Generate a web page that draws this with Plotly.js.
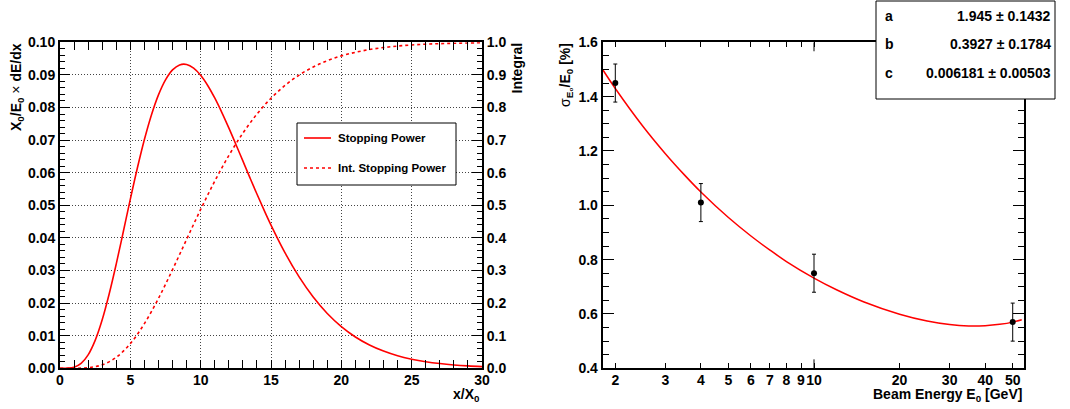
<!DOCTYPE html>
<html><head><meta charset="utf-8">
<script src="https://cdn.plot.ly/plotly-3.0.1.min.js"></script>
<style>body{margin:0;background:#fff}#chart{width:1070px;height:409px}</style>
</head><body><div id="chart"></div>
<script>
// ---- Left panel: longitudinal shower profile ----
const depthX0 = [0,0.5,1,1.5,2,2.5,3,3.5,4,4.5,5,5.5,6,6.5,7,7.5,8,8.5,9,9.5,10,10.5,11,11.5,12,12.5,13,13.5,14,14.5,15,16,17,18,19,20,21,22,23,24,25,26,27,28,29,30];
const stoppingPower = [0,0.00002,0.00032,0.00149,0.00412,0.00857,0.01489,0.02286,0.03203,0.04189,0.05187,0.06143,0.07016,0.07771,0.08386,0.08847,0.09153,0.09307,0.09321,0.09209,0.08988,0.08676,0.08292,0.07852,0.07375,0.06874,0.06361,0.05849,0.05346,0.04859,0.04393,0.03539,0.02803,0.02186,0.01682,0.01279,0.00961,0.00715,0.00528,0.00384,0.00280,0.00202,0.00145,0.00103,0.00073,0.00051];
const depthIntX0 = [0,1,2,3,4,5,6,7,8,9,10,11,12,13,14,15,16,17,18,19,20,21,22,23,24,25,26,27,28,29,30];
const intStoppingPower = [0,0.00007,0.0018,0.0107,0.0337,0.0757,0.1370,0.2144,0.3026,0.3955,0.4874,0.5740,0.6525,0.7212,0.7797,0.8283,0.8679,0.8995,0.9243,0.9436,0.9583,0.9694,0.9778,0.9839,0.9885,0.9918,0.9942,0.9959,0.9971,0.9980,0.9986];
const legendLabels = ['Stopping Power','Int. Stopping Power'];

// ---- Right panel: energy resolution ----
const beamEnergy = [2,4,10,50];
const resolution = [1.45,1.01,0.75,0.57];
const resolutionErr = [0.07,0.07,0.07,0.07];
const fitEnergy = [1.81,2,2.5,3,3.5,4,5,6,7,8,10,12,15,20,25,30,35,40,45,50,53.8];
const fitResolution = [1.498,1.430,1.291,1.190,1.112,1.049,0.955,0.887,0.835,0.793,0.732,0.689,0.644,0.599,0.574,0.561,0.556,0.557,0.562,0.570,0.579];
const logTickVals = [2,3,4,5,6,7,8,9,10,20,30,40,50];
const logTickText = ['2','3','4','5','6','7','8','9','10','20','30','40','50'];
const fitParNames = ['a','b','c'];
const fitParValues = ['1.945','0.3927','0.006181'];
const fitParErrors = ['0.1432','0.1784','0.00503'];

const W = 1070, H = 409;
const px = v => v / W;
const py = v => 1 - v / H;
const RED = '#ff0000';
const FONT = 'Liberation Sans, Arial, Helvetica, sans-serif';

const traces = [
  {x: depthX0, y: stoppingPower, xaxis: 'x', yaxis: 'y', type: 'scatter', mode: 'lines',
   line: {color: RED, width: 1.6, shape: 'spline'}, name: legendLabels[0], hoverinfo: 'skip'},
  {x: depthIntX0, y: intStoppingPower, xaxis: 'x', yaxis: 'y2', type: 'scatter', mode: 'lines',
   line: {color: RED, width: 1.6, dash: '3px,3px', shape: 'spline'}, name: legendLabels[1], hoverinfo: 'skip'},
  {x: fitEnergy, y: fitResolution, xaxis: 'x2', yaxis: 'y3', type: 'scatter', mode: 'lines',
   line: {color: RED, width: 1.5, shape: 'spline'}, hoverinfo: 'skip'},
  {x: beamEnergy, y: resolution, xaxis: 'x2', yaxis: 'y3', type: 'scatter', mode: 'markers',
   marker: {color: 'black', size: 6},
   error_y: {type: 'data', array: resolutionErr, visible: true, color: 'black', thickness: 1, width: 2},
   hoverinfo: 'skip'}
];

const yDom = [py(368.3), py(42.3)];
const common = {showline: true, linecolor: 'black', linewidth: 2, ticks: 'inside', tickcolor: 'black',
  tickwidth: 1, zeroline: false, tickangle: 0, tickfont: {family: FONT, size: 14, color: 'black', weight: 'bold'}};

const layout = {
  width: W, height: H, margin: {l: 0, r: 0, t: 0, b: 0},
  paper_bgcolor: 'white', plot_bgcolor: 'white', showlegend: false,
  font: {family: FONT, size: 14, color: 'black', weight: 'bold'},
  xaxis: Object.assign({}, common, {domain: [px(60), px(482)], anchor: 'y', range: [0, 30], dtick: 5,
    ticklen: 8, mirror: 'allticks', showgrid: true, griddash: '1px,2px', gridcolor: '#444', gridwidth: 1,
    ticklabelstandoff: -2,
    minor: {ticks: 'inside', ticklen: 4, dtick: 1, tickcolor: 'black', showgrid: false}}),
  yaxis: Object.assign({}, common, {domain: yDom, anchor: 'x', range: [0, 0.1], dtick: 0.01, tickformat: '.2f',
    ticklen: 10, showgrid: true, griddash: '1px,2px', gridcolor: '#444', gridwidth: 1,
    minor: {ticks: 'inside', ticklen: 5, dtick: 0.002, tickcolor: 'black', showgrid: false}}),
  yaxis2: Object.assign({}, common, {overlaying: 'y', side: 'right', anchor: 'x', range: [0, 1], dtick: 0.1,
    tickformat: '.1f', ticklen: 10, showgrid: false,
    minor: {ticks: 'inside', ticklen: 5, dtick: 0.02, tickcolor: 'black', showgrid: false}}),
  xaxis2: Object.assign({}, common, {domain: [px(602.7), px(1024)], anchor: 'y3', type: 'log',
    range: [0.2567, 1.7387], tickmode: 'array', tickvals: logTickVals, ticktext: logTickText,
    ticklen: 5, mirror: 'allticks', showgrid: false, tickangle: 0, ticklabelstandoff: -2}),
  yaxis3: Object.assign({}, common, {domain: yDom, anchor: 'x2', range: [0.4, 1.6], dtick: 0.2, tickformat: '.1f',
    ticklen: 11, mirror: 'allticks', showgrid: false,
    minor: {ticks: 'inside', ticklen: 6, dtick: 0.05, tickcolor: 'black', showgrid: false}}),
  shapes: [
    // legend box
    {type: 'rect', xref: 'paper', yref: 'paper', x0: px(297), x1: px(456), y0: py(185), y1: py(123),
     line: {color: 'black', width: 1}, fillcolor: 'white', layer: 'above'},
    {type: 'line', xref: 'paper', yref: 'paper', x0: px(304), x1: px(331), y0: py(138), y1: py(138),
     line: {color: RED, width: 1.6}, layer: 'above'},
    {type: 'line', xref: 'paper', yref: 'paper', x0: px(304), x1: px(331), y0: py(168), y1: py(168),
     line: {color: RED, width: 1.6, dash: '3px,3px'}, layer: 'above'},
    // longer tick at 10 on the log axis
    {type: 'line', xref: 'x2', yref: 'y3', x0: 10, x1: 10, y0: 0.4, y1: 0.433, line: {color: 'black', width: 1}},
    {type: 'line', xref: 'x2', yref: 'y3', x0: 10, x1: 10, y0: 1.6, y1: 1.567, line: {color: 'black', width: 1}},
    // fit parameter box
    {type: 'rect', xref: 'paper', yref: 'paper', x0: px(876), x1: px(1055), y0: py(99), y1: py(1),
     line: {color: 'black', width: 1}, fillcolor: 'white', layer: 'above'}
  ],
  annotations: []
};

const ann = (text, x, y, xa, ya, angle, size) => ({text: text, xref: 'paper', yref: 'paper', x: px(x), y: py(y),
  xanchor: xa, yanchor: ya, textangle: angle || 0, showarrow: false, borderpad: 0,
  font: {family: FONT, size: size || 14, color: 'black', weight: 'bold'}});

layout.annotations.push(ann('X<sub>0</sub>/E<sub>0</sub> <span style="font-weight:normal">×</span> dE/dx', 17, 42, 'center', 'top', -90));
layout.annotations.push(ann('Integral', 516, 42, 'center', 'top', -90));
layout.annotations.push(ann('x/X<sub>0</sub>', 481, 395, 'right', 'middle', 0));
layout.annotations.push(ann('<span style="font-weight:normal">σ</span><sub>E₀</sub>/E<sub>0</sub> [%]', 566, 42, 'center', 'top', -90));
layout.annotations.push(ann('Beam Energy E<sub>0</sub> [GeV]', 1023, 395, 'right', 'middle', 0));
layout.annotations.push(ann(legendLabels[0], 337, 138, 'left', 'middle', 0, 11.5));
layout.annotations.push(ann(legendLabels[1], 337, 168, 'left', 'middle', 0, 11.5));
const rowY = [15.7, 44, 72.7];
for (let i = 0; i < fitParNames.length; i++) {
  layout.annotations.push(ann(fitParNames[i], 884, rowY[i], 'left', 'middle', 0, 14));
  layout.annotations.push(ann(fitParValues[i] + ' ± ' + fitParErrors[i], 1052, rowY[i], 'right', 'middle', 0, 14));
}

Plotly.newPlot('chart', traces, layout, {staticPlot: true, displayModeBar: false});
</script>
</body></html>
